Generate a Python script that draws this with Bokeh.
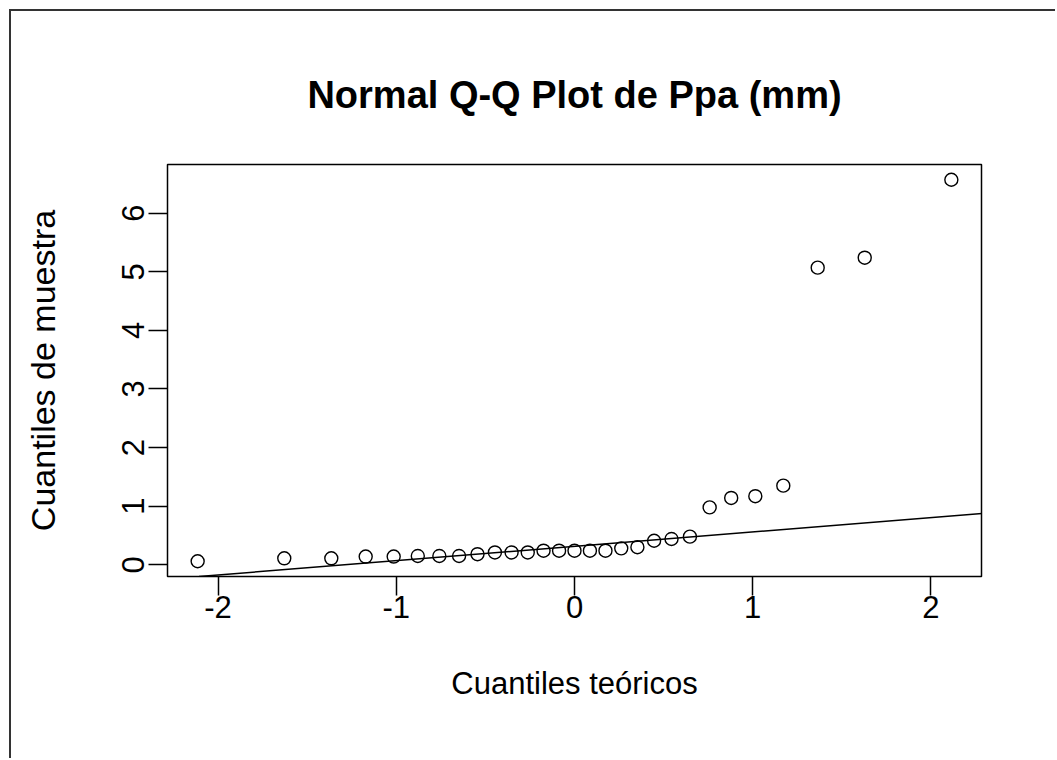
from statistics import NormalDist
from bokeh.plotting import figure
from bokeh.models import Range1d, FixedTicker, Slope, ColumnDataSource
from bokeh.embed import file_html
from bokeh.resources import INLINE

# Sample quantiles of Ppa (mm), sorted
ppa = [0.06, 0.11, 0.11, 0.14, 0.14, 0.15, 0.15, 0.15, 0.18, 0.21,
       0.21, 0.21, 0.24, 0.24, 0.24, 0.24, 0.24, 0.28, 0.30, 0.41,
       0.44, 0.48, 0.98, 1.14, 1.17, 1.35, 5.07, 5.24, 6.57]
x_ticks = [-2, -1, 0, 1, 2]
y_ticks = [0, 1, 2, 3, 4, 5, 6]
title_text = "Normal Q-Q Plot de Ppa (mm)"
x_label = "Cuantiles teóricos"
y_label = "Cuantiles de muestra"

n = len(ppa)
nd = NormalDist()
theo = [nd.inv_cdf((i + 0.5) / n) for i in range(n)]  # R ppoints for n > 10
ys = sorted(ppa)

# qqline through quartiles (type 7)
def q7(v, p):
    h = (len(v) - 1) * p
    lo = int(h)
    return v[lo] + (h - lo) * (v[min(lo + 1, len(v) - 1)] - v[lo])
q1, q3 = q7(ys, 0.25), q7(ys, 0.75)
z1, z3 = nd.inv_cdf(0.25), nd.inv_cdf(0.75)
slope = (q3 - q1) / (z3 - z1)
intercept = q1 - slope * z1

def ext(a, b):
    d = (b - a) * 0.04
    return a - d, b + d

xr = ext(min(theo), max(theo))
yr = ext(min(ys), max(ys))

W, H = 1046, 749
FONT = "Liberation Sans"
p = figure(width=W, height=H, output_backend="svg", toolbar_location=None,
           x_range=Range1d(*xr), y_range=Range1d(*yr),
           min_border_left=156, min_border_top=153,
           min_border_right=76, min_border_bottom=184)
p.margin = (9, 0, 0, 9)
p.styles = {"border-left": "2px solid #333333", "border-top": "2px solid #333333"}
p.grid.visible = False
p.outline_line_color = "black"
p.outline_line_width = 1.5
p.background_fill_color = "white"
p.border_fill_color = "white"

p.title.text = title_text
p.title.align = "center"
p.title.text_font = FONT
p.title.text_font_size = "38px"
p.title.text_font_style = "bold"
p.title.text_color = "black"
p.title.standoff = 97

for ax, ticks in ((p.xaxis[0], x_ticks), (p.yaxis[0], y_ticks)):
    ax.ticker = FixedTicker(ticks=ticks)
    ax.major_label_overrides = {t: str(t) for t in ticks}
    ax.axis_line_color = None
    ax.major_tick_in = 0
    ax.major_tick_out = 19
    ax.major_tick_line_color = "black"
    ax.major_tick_line_width = 1.5
    ax.minor_tick_line_color = None
    ax.major_label_text_font = FONT
    ax.major_label_text_font_size = "31px"
    ax.major_label_text_color = "black"
    ax.axis_label_text_font = FONT
    ax.axis_label_text_font_style = "normal"
    ax.axis_label_text_color = "black"

p.xaxis[0].axis_label = x_label
p.xaxis[0].axis_label_text_font_size = "31px"
p.xaxis[0].major_label_standoff = 0
p.xaxis[0].axis_label_standoff = 45
p.yaxis[0].axis_label = y_label
p.yaxis[0].axis_label_text_font_size = "34px"
p.yaxis[0].major_label_orientation = "vertical"
p.yaxis[0].major_label_standoff = 4
p.yaxis[0].axis_label_standoff = 58

src = ColumnDataSource(dict(x=theo, y=ys))
p.scatter("x", "y", source=src, marker="circle", size=13,
          fill_color=None, line_color="black", line_width=1.4)
p.add_layout(Slope(gradient=slope, y_intercept=intercept,
                   line_color="black", line_width=1.5))

open("out.html", "w").write(file_html(p, INLINE))
